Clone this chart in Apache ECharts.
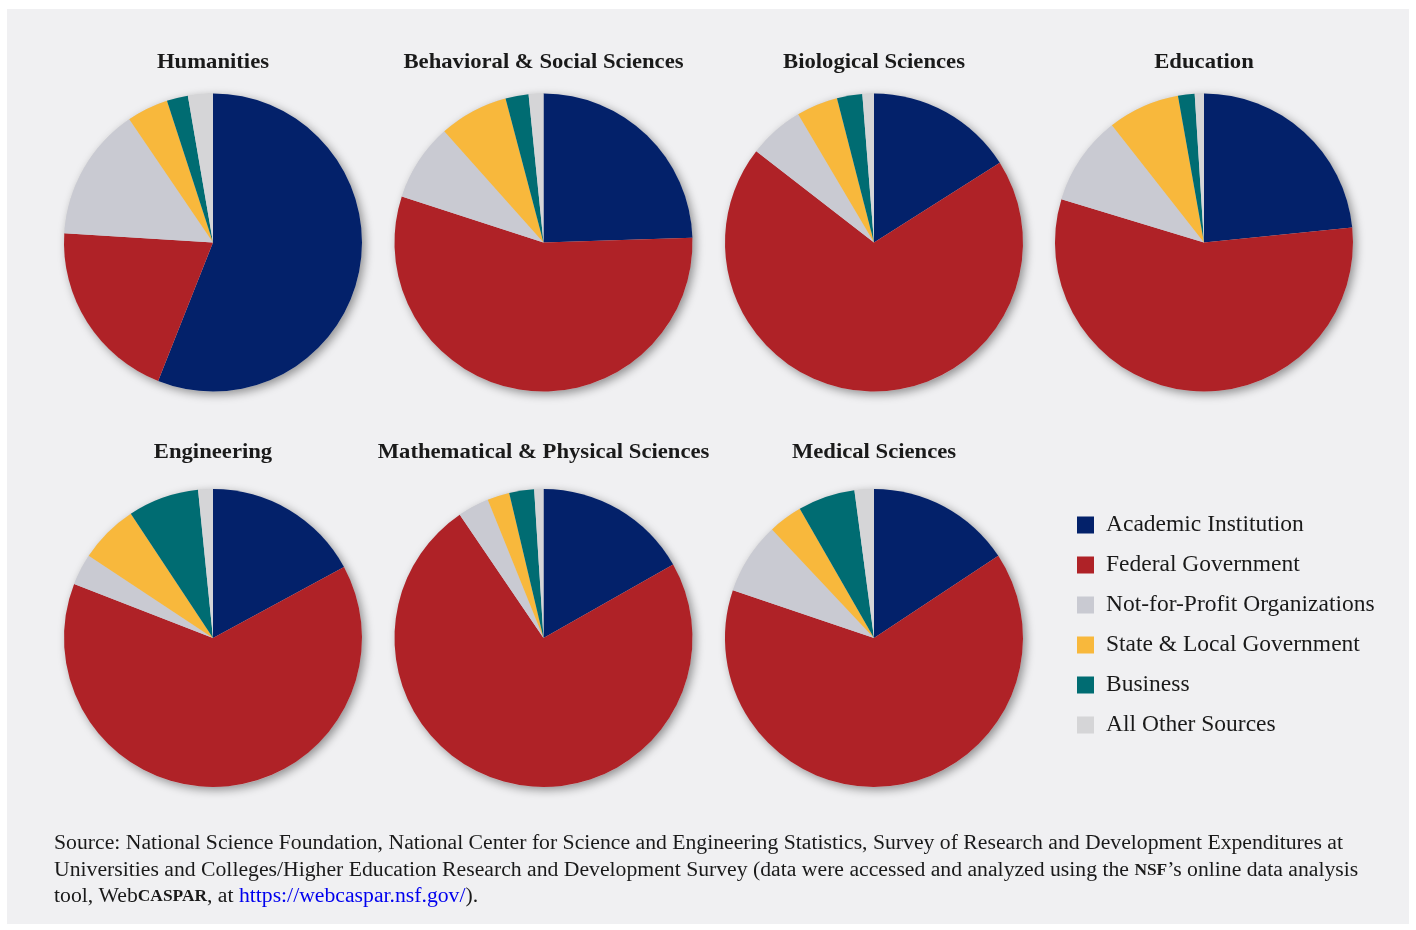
<!DOCTYPE html>
<html>
<head>
<meta charset="utf-8">
<script src="https://cdn.jsdelivr.net/npm/echarts@6/dist/echarts.min.js"></script>
<style>
  html, body { margin: 0; padding: 0; background: #ffffff; }
  #panel { position: absolute; left: 7px; top: 9px; width: 1402px; height: 915px; background: #f0f0f2; }
  #chart { position: absolute; left: 0; top: 0; width: 1416px; height: 930px; }
</style>
</head>
<body>
<div id="panel"></div>
<div id="chart"></div>
<script>
// ---- Data (percent shares of R&D expenditure by source) ----
const sources = ['Academic Institution', 'Federal Government', 'Not-for-Profit Organizations',
                 'State & Local Government', 'Business', 'All Other Sources'];
const fields = ['Humanities', 'Behavioral & Social Sciences', 'Biological Sciences', 'Education',
                'Engineering', 'Mathematical & Physical Sciences', 'Medical Sciences'];
const humanities  = [56.0, 20.0, 14.5, 4.5, 2.3, 2.7];
const behavioral  = [24.5, 55.5, 8.4, 7.5, 2.5, 1.6];
const biological  = [16.0, 69.5, 6.0, 4.5, 2.75, 1.25];
const education   = [23.4, 56.3, 9.7, 7.8, 1.8, 1.0];
const engineering = [17.1, 63.8, 3.4, 6.4, 7.7, 1.6];
const mathPhys    = [16.8, 73.7, 3.4, 2.4, 2.7, 1.0];
const medical     = [15.7, 64.5, 7.8, 3.7, 6.2, 2.1];
const sourceLines = [
  'Source: National Science Foundation, National Center for Science and Engineering Statistics, Survey of Research and Development Expenditures at',
  'Universities and Colleges/Higher Education Research and Development Survey (data were accessed and analyzed using the {sc|NSF}’s online data analysis',
  'tool, Web{sc|CASPAR}, at {link|https://webcaspar.nsf.gov/}).'
];

// ---- Layout / style ----
const colors = ['#03216a', '#af2227', '#c9cad2', '#f8b83c', '#006c72', '#d5d5d7'];
const allValues = [humanities, behavioral, biological, education, engineering, mathPhys, medical];
const centers = [[213, 242.5], [543.5, 242.5], [874, 242.5], [1204, 242.5], [213, 638], [543.5, 638], [874, 638]];
const R = 149;
const serif = '"Liberation Serif", "DejaVu Serif", serif';

const series = [];
const graphic = [];
allValues.forEach((vals, i) => {
  // shadow disc behind each pie
  series.push({
    type: 'pie', silent: true, center: centers[i], radius: [0, R], z: 1,
    label: { show: false }, labelLine: { show: false }, legendHoverLink: false,
    itemStyle: { color: '#d0d0d3', shadowBlur: 10, shadowOffsetX: 3, shadowOffsetY: 3, shadowColor: 'rgba(0,0,0,0.4)' },
    data: [{ value: 1, name: '_bg' }], tooltip: { show: false }
  });
  series.push({
    type: 'pie', name: fields[i], center: centers[i], radius: [0, R], z: 2,
    startAngle: 90, clockwise: true, silent: true,
    label: { show: false }, labelLine: { show: false },
    itemStyle: { borderWidth: 0 },
    emphasis: { disabled: true },
    data: vals.map((v, k) => ({ value: v, name: sources[k], itemStyle: { color: colors[k] } }))
  });
  graphic.push({
    type: 'text', x: centers[i][0], y: i < 4 ? 62 : 452.5, scaleX: 1.03,
    style: { text: fields[i], font: 'bold 22px ' + serif, fill: '#1a1a1a', textAlign: 'center', textVerticalAlign: 'middle' }
  });
});

const srcY = [844, 871, 897];
sourceLines.forEach((t, i) => {
  graphic.push({
    type: 'text', x: 54, y: srcY[i], scaleX: 1.085,
    style: {
      text: t, font: '20px ' + serif, fill: '#1a1a1a', textVerticalAlign: 'middle',
      rich: {
        sc: { fontSize: 16, fontFamily: serif, fill: '#1a1a1a', fontWeight: 'bold' },
        link: { fontSize: 20, fontFamily: serif, fill: '#0000ee' }
      }
    }
  });
});

const chart = echarts.init(document.getElementById('chart'), null, { renderer: 'canvas' });
chart.setOption({
  animation: false,
  backgroundColor: 'transparent',
  color: colors,
  legend: {
    orient: 'vertical', left: 1077, top: 513, padding: 0,
    icon: 'rect', itemWidth: 17, itemHeight: 17, itemGap: 16,
    selectedMode: false,
    data: sources,
    textStyle: { fontFamily: serif, fontSize: 23.5, color: '#1a1a1a', padding: [0, 0, 0, 7], lineHeight: 22 }
  },
  series: series,
  graphic: graphic
});
</script>
</body>
</html>
